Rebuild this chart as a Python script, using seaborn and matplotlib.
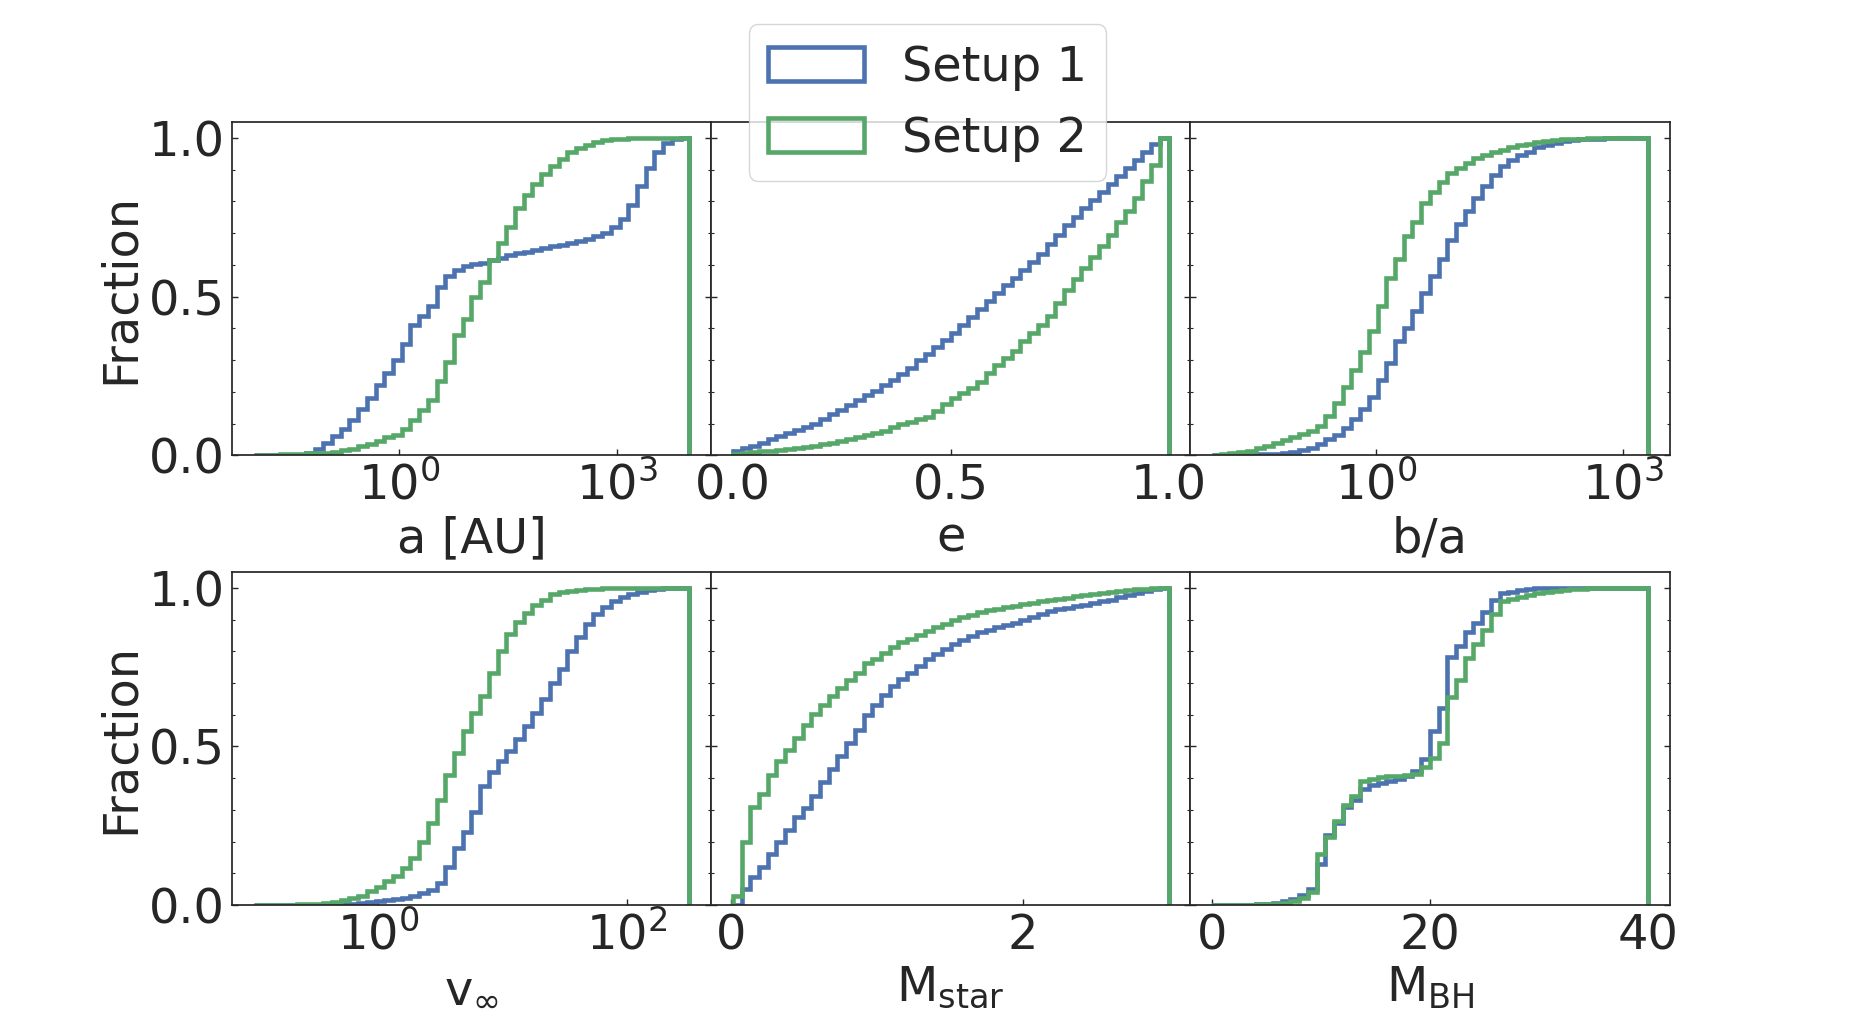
import numpy as np
import matplotlib
matplotlib.use('Agg')
import matplotlib.pyplot as plt
import seaborn as sns
from matplotlib.ticker import FixedLocator, MultipleLocator, NullLocator

sns.set_theme(style='white', palette='deep')
plt.rcParams['font.family'] = ['DejaVu Sans']

setups = ['Setup 1', 'Setup 2']

# bin ranges (log10 for log panels), 50 bins each
a_range = (-2.0, 4.0)
e_range = (0.0, 1.0)
ba_range = (-2.0, 3.3)
v_range = (-1.0, 2.5)
mstar_range = (0.01, 3.0)
mbh_range = (0.0, 40.0)

# cumulative fraction at the right edge of each bin
a_s1 = [0, 0, 0, 0, 0.001, 0.002, 0.008, 0.02, 0.04, 0.06,
        0.084, 0.11, 0.145, 0.18, 0.22, 0.26, 0.30, 0.35, 0.41, 0.44,
        0.47, 0.53, 0.565, 0.585, 0.595, 0.603, 0.607, 0.614, 0.622, 0.630,
        0.636, 0.642, 0.648, 0.653, 0.659, 0.664, 0.670, 0.676, 0.682, 0.690,
        0.700, 0.718, 0.745, 0.79, 0.85, 0.905, 0.955, 0.985, 0.998, 1.0]
a_s2 = [0, 0.001, 0.002, 0.003, 0.004, 0.005, 0.006, 0.007, 0.007, 0.01,
        0.016, 0.021, 0.03, 0.037, 0.045, 0.056, 0.065, 0.084, 0.11, 0.142,
        0.175, 0.235, 0.295, 0.38, 0.43, 0.5, 0.547, 0.616, 0.67, 0.72,
        0.78, 0.82, 0.855, 0.885, 0.91, 0.935, 0.955, 0.968, 0.978, 0.986,
        0.992, 0.996, 0.998, 0.999, 1, 1, 1, 1, 1, 1]

e_s1 = [0.015, 0.022, 0.03, 0.04, 0.05, 0.062, 0.07, 0.079, 0.09, 0.10,
        0.115, 0.13, 0.143, 0.158, 0.175, 0.19, 0.203, 0.22, 0.236, 0.255,
        0.275, 0.30, 0.32, 0.342, 0.363, 0.385, 0.41, 0.435, 0.46, 0.485,
        0.51, 0.535, 0.56, 0.585, 0.61, 0.635, 0.665, 0.695, 0.725, 0.75,
        0.78, 0.805, 0.83, 0.855, 0.88, 0.905, 0.93, 0.955, 0.98, 1.0]
e_s2 = [0.005, 0.007, 0.009, 0.012, 0.015, 0.018, 0.02, 0.023, 0.027, 0.03,
        0.035, 0.04, 0.045, 0.05, 0.057, 0.063, 0.07, 0.078, 0.088, 0.097,
        0.105, 0.113, 0.122, 0.14, 0.162, 0.18, 0.197, 0.213, 0.232, 0.26,
        0.283, 0.305, 0.33, 0.36, 0.385, 0.412, 0.44, 0.48, 0.52, 0.555,
        0.59, 0.625, 0.66, 0.695, 0.735, 0.77, 0.81, 0.865, 0.915, 1.0]

ba_s1 = [0, 0, 0, 0.001, 0.002, 0.003, 0.004, 0.005, 0.006, 0.01,
         0.016, 0.024, 0.034, 0.05, 0.065, 0.085, 0.115, 0.145, 0.185, 0.237,
         0.29, 0.36, 0.40, 0.455, 0.51, 0.565, 0.62, 0.678, 0.73, 0.77,
         0.81, 0.848, 0.882, 0.91, 0.93, 0.945, 0.957, 0.97, 0.978, 0.985,
         0.99, 0.994, 0.996, 0.997, 0.998, 0.999, 1, 1, 1, 1]
ba_s2 = [0.002, 0.004, 0.006, 0.01, 0.015, 0.022, 0.03, 0.038, 0.048, 0.058,
         0.068, 0.078, 0.092, 0.125, 0.165, 0.215, 0.27, 0.325, 0.39, 0.47,
         0.56, 0.62, 0.69, 0.735, 0.795, 0.83, 0.86, 0.888, 0.905, 0.922,
         0.937, 0.946, 0.955, 0.963, 0.97, 0.977, 0.982, 0.986, 0.99, 0.993,
         0.995, 0.997, 0.998, 0.999, 1, 1, 1, 1, 1, 1]

v_s1 = [0, 0, 0, 0, 0, 0, 0.001, 0.001, 0.002, 0.003,
        0.004, 0.005, 0.007, 0.01, 0.013, 0.016, 0.02, 0.024, 0.03, 0.037,
        0.048, 0.07, 0.12, 0.18, 0.23, 0.295, 0.375, 0.42, 0.455, 0.485,
        0.525, 0.563, 0.605, 0.65, 0.70, 0.745, 0.80, 0.845, 0.885, 0.917,
        0.94, 0.958, 0.97, 0.98, 0.988, 0.993, 0.996, 0.999, 1, 1]
v_s2 = [0, 0, 0, 0, 0.001, 0.002, 0.003, 0.005, 0.007, 0.011,
        0.015, 0.021, 0.03, 0.043, 0.058, 0.075, 0.092, 0.118, 0.15, 0.20,
        0.26, 0.332, 0.41, 0.48, 0.548, 0.605, 0.66, 0.73, 0.80, 0.855,
        0.893, 0.921, 0.945, 0.963, 0.98, 0.986, 0.99, 0.994, 0.996, 0.997,
        0.998, 0.999, 1, 1, 1, 1, 1, 1, 1, 1]

mstar_s1 = [0, 0.05, 0.089, 0.12, 0.16, 0.198, 0.238, 0.277, 0.306, 0.345,
            0.388, 0.43, 0.47, 0.51, 0.552, 0.598, 0.63, 0.662, 0.692, 0.712,
            0.73, 0.753, 0.775, 0.792, 0.807, 0.822, 0.835, 0.848, 0.86, 0.868,
            0.876, 0.882, 0.888, 0.897, 0.907, 0.918, 0.927, 0.932, 0.937, 0.941,
            0.946, 0.952, 0.958, 0.963, 0.97, 0.976, 0.982, 0.99, 0.995, 1.0]
mstar_s2 = [0.03, 0.2, 0.31, 0.35, 0.41, 0.455, 0.49, 0.528, 0.568, 0.602,
            0.63, 0.658, 0.685, 0.71, 0.732, 0.762, 0.776, 0.794, 0.812, 0.828,
            0.84, 0.851, 0.863, 0.875, 0.886, 0.897, 0.907, 0.915, 0.923, 0.929,
            0.934, 0.938, 0.942, 0.948, 0.952, 0.957, 0.961, 0.965, 0.969, 0.973,
            0.977, 0.98, 0.983, 0.986, 0.989, 0.992, 0.995, 0.997, 0.999, 1.0]

mbh_s1 = [0, 0, 0, 0, 0.001, 0.002, 0.004, 0.006, 0.012, 0.02,
          0.033, 0.05, 0.13, 0.22, 0.26, 0.31, 0.332, 0.365, 0.377, 0.386,
          0.392, 0.398, 0.407, 0.424, 0.46, 0.55, 0.62, 0.782, 0.815, 0.86,
          0.89, 0.925, 0.96, 0.982, 0.988, 0.992, 0.996, 0.998, 0.999, 1.0,
          1, 1, 1, 1, 1, 1, 1, 1, 1, 1]
mbh_s2 = [0, 0, 0, 0, 0.001, 0.002, 0.003, 0.004, 0.007, 0.013,
          0.022, 0.04, 0.16, 0.215, 0.265, 0.315, 0.345, 0.392, 0.398, 0.403,
          0.406, 0.408, 0.411, 0.413, 0.435, 0.465, 0.51, 0.655, 0.71, 0.78,
          0.822, 0.868, 0.918, 0.958, 0.966, 0.972, 0.978, 0.983, 0.988, 0.991,
          0.993, 0.995, 0.997, 0.998, 0.999, 1, 1, 1, 1, 1]

panels = [
    ('a [AU]', a_range, True, [1, 1e3], a_s1, a_s2),
    ('e', e_range, False, [0, 0.5, 1.0], e_s1, e_s2),
    ('b/a', ba_range, True, [1, 1e3], ba_s1, ba_s2),
    (r'v$_\infty$', v_range, True, [1, 1e2], v_s1, v_s2),
    (r'M$_{\rm star}$', mstar_range, False, [0, 2], mstar_s1, mstar_s2),
    (r'M$_{\rm BH}$', mbh_range, False, [0, 20, 40], mbh_s1, mbh_s2),
]

colors = sns.color_palette('deep')
fs = 34.5

fig, axes = plt.subplots(2, 3, figsize=(18.55, 10.17), dpi=100, sharey=True)
plt.subplots_adjust(left=0.125, right=0.9, bottom=0.11, top=0.88, wspace=0, hspace=0.35)

for ax, (label, rng, logx, ticks, s1, s2) in zip(axes.flat, panels):
    n = len(s1)
    if logx:
        edges = np.logspace(rng[0], rng[1], n + 1)
        centers = np.sqrt(edges[:-1] * edges[1:])
        ax.set_xscale('log')
    else:
        edges = np.linspace(rng[0], rng[1], n + 1)
        centers = 0.5 * (edges[:-1] + edges[1:])
    for cdf, name, col in zip([s1, s2], setups, [colors[0], colors[2]]):
        w = np.diff(np.concatenate([[0.0], cdf]))
        ax.hist(centers, bins=edges, weights=w, cumulative=True,
                histtype='step', linewidth=3.3, color=col, label=name)
    ax.set_xlabel(label, fontsize=fs)
    ax.xaxis.set_major_locator(FixedLocator(ticks))
    ax.xaxis.set_minor_locator(NullLocator())
    ax.set_ylim(0, 1.05)
    ax.yaxis.set_major_locator(FixedLocator([0, 0.5, 1.0]))
    ax.yaxis.set_minor_locator(MultipleLocator(0.1))
    ax.tick_params(which='both', direction='in', left=True, right=True,
                   bottom=True, top=False, colors='.15', labelsize=fs, pad=5)
    ax.tick_params(which='major', length=4, width=1)
    ax.tick_params(which='minor', length=2.5, width=0.8)
    ax.tick_params(axis='x', which='minor', bottom=False)
    for sp in ax.spines.values():
        sp.set_visible(True)
        sp.set_color('.15')

for ax in axes[:, 0]:
    ax.set_ylabel('Fraction', fontsize=fs)
    ax.yaxis.set_major_formatter(matplotlib.ticker.FormatStrFormatter('%.1f'))

handles, labels = axes[0, 0].get_legend_handles_labels()
fig.legend(handles, labels, loc='upper center', bbox_to_anchor=(0.5, 0.976),
           borderaxespad=0, fontsize=fs, frameon=True)

fig.savefig('out.png', dpi=100)
